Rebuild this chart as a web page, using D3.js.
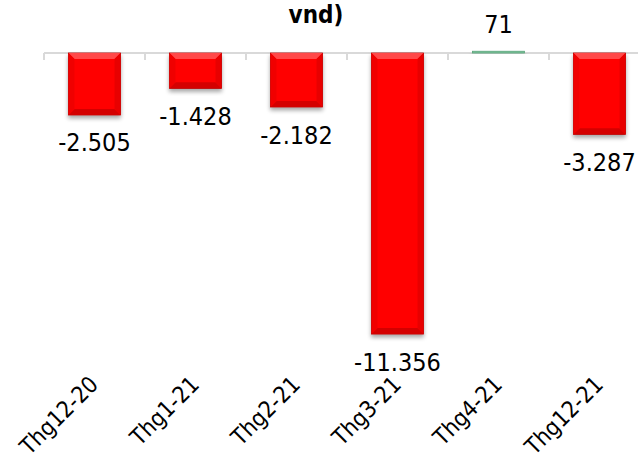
<!DOCTYPE html>
<html><head><meta charset="utf-8">
<script src="https://cdn.jsdelivr.net/npm/d3@7/dist/d3.min.js"></script>
<style>
html,body{margin:0;padding:0;background:#fff;}
svg text{font-family:"DejaVu Sans Condensed","DejaVu Sans",sans-serif;font-stretch:condensed;}
</style></head>
<body>
<svg id="c" width="638" height="461"></svg>
<script>
const categories = ["Thg12-20","Thg1-21","Thg2-21","Thg3-21","Thg4-21","Thg12-21"];
const values = [-2505, -1428, -2182, -11356, 71, -3287];
const valueLabels = ["-2.505","-1.428","-2.182","-11.356","71","-3.287"];
const titleText = "vnd)";

const svg = d3.select("#c");
const W = 638, H = 461;
const x = d3.scaleBand().domain(categories).range([44, 650]).paddingInner(0.485).paddingOuter(0.2425);
const y = d3.scaleLinear().domain([-12000, 0]).range([350, 53]);

const defs = svg.append("defs");
const f = defs.append("filter").attr("id","sh").attr("x","-20%").attr("y","-20%").attr("width","140%").attr("height","140%");
f.append("feGaussianBlur").attr("in","SourceAlpha").attr("stdDeviation",2.2).attr("result","b");
f.append("feOffset").attr("in","b").attr("dx",0).attr("dy",3).attr("result","o");
f.append("feComponentTransfer").attr("in","o").attr("result","o2").append("feFuncA").attr("type","linear").attr("slope",0.35);
const m = f.append("feMerge"); m.append("feMergeNode").attr("in","o2"); m.append("feMergeNode").attr("in","SourceGraphic");

// title
svg.append("text").attr("x",316).attr("y",23).attr("text-anchor","middle")
  .attr("font-size",24).attr("font-weight","bold").attr("fill","#000").text(titleText);

// axis
const axisY = y(0);
svg.append("line").attr("x1",44).attr("x2",W).attr("y1",axisY).attr("y2",axisY)
  .attr("stroke","#d9d9d9").attr("stroke-width",2);
const step = x.step();
const tickXs = d3.range(categories.length+1).map(i => x.range()[0] + i*step);
svg.selectAll("line.tick").data(tickXs).join("line").attr("class","tick")
  .attr("x1",d=>d).attr("x2",d=>d).attr("y1",axisY).attr("y2",axisY+7)
  .attr("stroke","#d9d9d9").attr("stroke-width",2);

const data = categories.map((c,i)=>({c, v:values[i], l:valueLabels[i]}));
const bw = x.bandwidth();
const g = svg.selectAll("g.bar").data(data).join("g").attr("class","bar");
g.each(function(d){
  const gg = d3.select(this);
  const x0 = x(d.c);
  const y0 = Math.min(y(d.v), y(0)), y1 = Math.max(y(d.v), y(0));
  const h = y1 - y0;
  const neg = d.v < 0;
  const base = neg ? "#ff0000" : "#7cc49a";
  const inner = gg.append("g").attr("filter","url(#sh)");
  inner.append("rect").attr("x",x0).attr("y",y0).attr("width",bw).attr("height",h)
    .attr("fill",base).attr("stroke", neg ? "#b00000" : "#5aa37a").attr("stroke-width",0.8);
  if (neg && h > 10) {
    const b = 6;
    inner.append("polygon").attr("points",[[x0,y0],[x0+bw,y0],[x0+bw-b,y0+b],[x0+b,y0+b]].join(" ")).attr("fill","#ff4a4a");
    inner.append("polygon").attr("points",[[x0,y1],[x0+bw,y1],[x0+bw-b,y1-b],[x0+b,y1-b]].join(" ")).attr("fill","#d40000");
    inner.append("polygon").attr("points",[[x0,y0],[x0+b,y0+b],[x0+b,y1-b],[x0,y1]].join(" ")).attr("fill","#f00000");
    inner.append("polygon").attr("points",[[x0+bw,y0],[x0+bw-b,y0+b],[x0+bw-b,y1-b],[x0+bw,y1]].join(" ")).attr("fill","#e80000");
  }
  const cx = x0 + bw/2;
  gg.append("text").attr("x",cx).attr("y", neg ? y1 + 36.5 : y0 - 18)
    .attr("text-anchor","middle").attr("font-size",25).attr("fill","#000").text(d.l);
});

// x labels rotated
svg.selectAll("text.xl").data(categories).join("text").attr("class","xl")
  .attr("text-anchor","end").attr("font-size",23).attr("fill","#000")
  .attr("transform", d => `translate(${x(d)+bw/2+5},386) rotate(-45)`)
  .text(d=>d);
</script>
</body></html>
